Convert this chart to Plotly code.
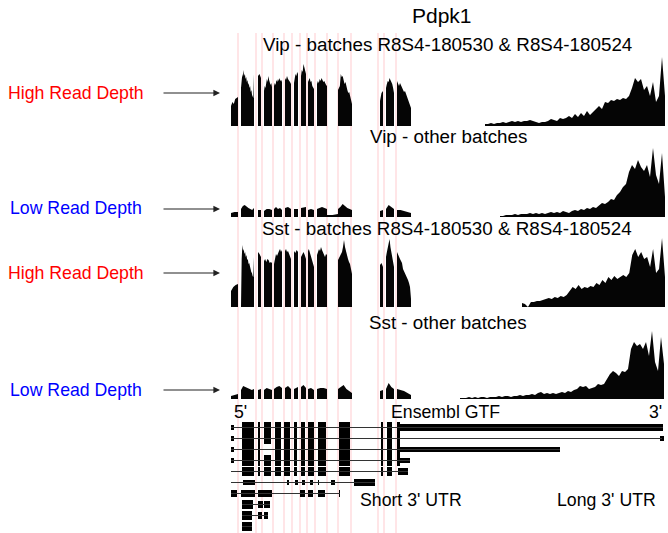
import numpy as np
import plotly.graph_objects as go

W, H = 668, 533
FONT = "Liberation Sans, Arial, sans-serif"

# ---------------- data ----------------
# coverage windows (relative genomic position along Pdpk1)
exon_starts = [1, 11, 28, 34, 44, 55, 64, 71, 78, 87, 97, 108, 150, 156, 167]
exon_ends = [8, 24, 31, 42, 52, 61, 68, 76, 84, 97, 108, 122, 153, 164, 181]

vip_high_exons = [
    [20, 24, 22, 27, 28, 29],
    [38, 44, 52, 49, 56, 50, 52, 47, 49, 44, 46, 41, 43, 38, 40, 34, 36, 31, 30, 28, 52],
    [50, 52, 48],
    [35, 40, 38, 45, 47, 44, 50, 46, 44, 41, 43, 39],
    [40, 43, 41, 46, 44, 47, 45, 48, 45, 46, 44],
    [48, 46, 50, 47, 46, 44, 42],
    [43, 48, 52, 50, 54, 52],
    [50, 56, 54, 62, 58, 55, 52],
    [44, 46, 48, 44, 45, 40, 38, 37],
    [42, 45, 43, 47, 45, 48, 46, 44, 45, 42, 41, 40],
    [0, 0],
    [36, 38, 40, 52, 49, 50, 46, 42, 44, 38, 36, 33, 34, 30, 26, 22],
    [25, 33, 35],
    [38, 42, 45, 44, 48, 46, 44, 42, 38, 33],
    [45, 42, 40, 43, 41, 38, 36, 34, 35, 32, 30, 28, 24, 22, 18]]
vip_low_exons = [
    [4, 5, 5], [8, 11, 12, 10, 9, 8, 7, 9], [7, 7], [6, 8, 8, 7], [8, 10, 8, 9, 7], [9, 10, 8],
    [8, 8], [9, 10], [7, 8, 7], [8, 9, 10, 9, 8], [2, 2, 3], [8, 10, 13, 11, 9, 8, 7], [6, 7],
    [8, 12, 10, 8], [7, 7, 6, 5, 4]]
sst_high_exons = [
    [16, 20, 22, 23],
    [36, 48, 62, 56, 58, 53, 55, 50, 52, 47, 48, 43, 44, 39, 38, 35, 34, 31, 30, 50],
    [55, 53, 50],
    [46, 48, 45, 48, 47, 44, 45, 44],
    [43, 48, 53, 51, 55, 56, 58, 55, 57],
    [56, 58, 55, 56, 53, 50, 48],
    [56, 54, 57, 55],
    [50, 53, 55, 52, 48],
    [56, 58, 55, 52, 50, 47, 45, 40],
    [52, 55, 58, 56, 60, 57, 55, 52, 50, 53, 52],
    [0, 0],
    [47, 49, 50, 53, 55, 60, 67, 60, 55, 52, 48, 45, 43, 38, 33],
    [42, 44, 40],
    [50, 55, 60, 65, 68, 60, 55, 50, 48, 40],
    [55, 52, 50, 48, 46, 44, 38, 36, 33, 31, 30, 27, 24, 20, 8]]
sst_low_exons = [
    [3, 4, 5], [9, 13, 12, 11, 10, 9, 10], [9, 10], [9, 11, 10, 9], [10, 12, 13, 11],
    [11, 13, 10], [10, 12], [12, 14, 11], [10, 11, 9], [10, 11, 11, 10], [0, 0],
    [10, 12, 14, 10, 8, 6], [8, 9], [10, 16, 12, 10], [10, 9, 8, 6, 4]]

# 3' UTR coverage (start, end, values)
vip_high_utr_span = (255, 435)
vip_high_utr = [2, 2, 3, 2, 3, 3, 4, 3, 4, 5, 4, 5, 4, 5, 5, 6, 5, 4, 3, 4, 4, 5, 7, 6, 5, 8, 7, 8,
                10, 8, 12, 9, 13, 10, 15, 11, 14, 18, 20, 17, 24, 23, 26, 25, 27, 26, 28, 27, 30,
                38, 48, 44, 47, 36, 40, 30, 44, 24, 30, 69, 30]
vip_low_utr_span = (270, 435)
vip_low_utr = [1, 1, 2, 2, 2, 3, 2, 3, 3, 3, 4, 3, 4, 3, 4, 3, 4, 5, 4, 5, 4, 6, 5, 4, 6, 7, 6, 8,
               7, 9, 8, 10, 9, 12, 14, 13, 15, 18, 17, 22, 25, 30, 33, 45, 52, 48, 57, 50, 46, 52,
               40, 69, 42, 33, 64, 20]
sst_high_utr_span = (292, 435)
sst_high_utr = [4, 3, 0, 5, 5, 6, 6, 7, 8, 9, 8, 10, 9, 11, 10, 12, 16, 20, 18, 22, 18, 20, 19, 21,
                20, 24, 22, 27, 24, 30, 27, 31, 28, 30, 32, 30, 34, 52, 58, 50, 55, 48, 50, 40, 58,
                34, 38, 69, 30]
sst_low_utr_span = (230, 434)
sst_low_utr = [1, 1, 1, 2, 1, 2, 1, 2, 2, 1, 2, 2, 2, 3, 2, 3, 3, 2, 3, 3, 4, 3, 4, 4, 5, 4, 6, 7,
               5, 6, 5, 6, 5, 6, 7, 6, 8, 7, 9, 10, 13, 12, 13, 10, 11, 12, 15, 14, 15, 20, 25, 28,
               26, 23, 28, 27, 30, 50, 57, 53, 55, 50, 57, 43, 68, 37, 28, 62, 35]

# exon boundary guide lines
boundaries = [8, 26, 32, 43, 54, 62, 70, 77, 85, 97, 108, 121, 148, 154, 166]

# Ensembl GTF transcripts: row -> (line span, exons [(start, end, thickness)])
common = [(12, 24), (28, 30), (34, 41), (45, 51), (54, 60), (64, 67), (71, 75), (78, 84),
          (88, 96), (109, 120), (151, 153), (157, 162), (167, 170)]
C, U, T = 1.0, 0.5, 0.58
transcripts = [
    ((1, 433), [(1, 4, U)] + [(s, e, C) for s, e in common] + [(170, 433, T)]),
    ((1, 432), [(1, 4, U)] + [(s, e, C) for s, e in common] + [(430, 434, U)]),
    ((1, 330), [(1, 4, U)] + [(s, e, C) for s, e in common if s != 34] + [(170, 330, 0.52)]),
    ((1, 180), [(1, 4, U)] + [(s, e, C) for s, e in common] + [(170, 180, U)]),
    ((1, 178), [(s, e, 0.8) for s, e in common[:-1]] + [(168, 178, 0.62)]),
    ((1, 145), [(13, 25, 0.45), (57, 59, 0.45), (65, 68, 0.45), (72, 75, 0.45), (80, 83, 0.45),
                (88, 89, 0.45), (101, 105, 0.45), (124, 145, 0.6)]),
    ((1, 110), [(1, 7, 0.6), (11, 25, 0.6), (28, 42, 0.6), (70, 75, 0.6), (78, 83, 0.6),
                (88, 95, 0.6), (109, 110, 0.6)]),
    ((12, 40), [(12, 23, 0.9), (28, 33, 0.7), (34, 40, 0.7)]),
    ((12, 38), [(12, 22, 0.9), (28, 32, 0.7), (34, 38, 0.7)]),
    ((12, 22), [(12, 22, 0.9)]),
]

# ---------------- figure ----------------
fig = go.Figure()


def coverage_xy(exon_vals, utr_span, utr_vals):
    xs, ys = [], []
    for s, e, vals in zip(exon_starts, exon_ends, exon_vals):
        xs += [s] + list(np.linspace(s, e, len(vals))) + [e]
        ys += [0] + list(vals) + [0]
    s, e = utr_span
    xs += [s] + list(np.linspace(s, e, len(utr_vals))) + [e]
    ys += [0] + list(utr_vals) + [0]
    return xs, ys


tracks = [
    (vip_high_exons, vip_high_utr_span, vip_high_utr, "y"),
    (vip_low_exons, vip_low_utr_span, vip_low_utr, "y2"),
    (sst_high_exons, sst_high_utr_span, sst_high_utr, "y3"),
    (sst_low_exons, sst_low_utr_span, sst_low_utr, "y4"),
]
for ev, span, uv, ya in tracks:
    xs, ys = coverage_xy(ev, span, uv)
    fig.add_trace(go.Scatter(x=xs, y=ys, xaxis="x", yaxis=ya, mode="lines",
                             line=dict(width=0, color="black"), fill="tozeroy",
                             fillcolor="#050505", hoverinfo="skip", showlegend=False))

# transcript lines
lx, ly = [], []
for r, (span, ex) in enumerate(transcripts):
    lx += [span[0], span[1], None]
    ly += [r, r, None]
fig.add_trace(go.Scatter(x=lx, y=ly, xaxis="x", yaxis="y5", mode="lines",
                         line=dict(width=1, color="#333333"), hoverinfo="skip", showlegend=False))

bx, bb, by, bw = [], [], [], []
for r, (span, ex) in enumerate(transcripts):
    for s, e, th in ex:
        bb.append(s)
        bx.append(e - s)
        by.append(r)
        bw.append(th)
fig.add_trace(go.Bar(x=bx, base=bb, y=by, width=bw, orientation="h", xaxis="x", yaxis="y5",
                     marker=dict(color="black", line=dict(width=0)), hoverinfo="skip",
                     showlegend=False))


def px(x):
    return x / W


def py(y):
    return 1 - y / H


# guide lines
shapes = []
for b in boundaries:
    shapes.append(dict(type="line", xref="x", yref="paper", x0=b, x1=b, y0=0,
                       y1=py(33), line=dict(color="rgba(255,160,170,0.55)", width=1),
                       layer="below"))


def txt(text, x, y, size, color="black"):
    return dict(text=text, x=px(x), y=py(y), xref="paper", yref="paper", showarrow=False,
                xanchor="center", yanchor="middle", font=dict(family=FONT, size=size, color=color))


ann = [
    txt("Pdpk1", 442, 16, 21),
    txt("Vip - batches R8S4-180530 & R8S4-180524", 447, 45, 18.8),
    txt("Vip - other batches", 448, 136, 18.8),
    txt("Sst - batches R8S4-180530 & R8S4-180524", 447, 228, 18.8),
    txt("Sst - other batches", 448, 322, 18.8),
    txt("High Read Depth", 76, 93, 17.7, "#ff0000"),
    txt("Low Read Depth", 76, 208, 17.7, "#0000ff"),
    txt("High Read Depth", 76, 273, 17.7, "#ff0000"),
    txt("Low Read Depth", 76, 390, 17.7, "#0000ff"),
    txt("5'", 240, 412, 17.7),
    txt("Ensembl GTF", 445, 412, 17.7),
    txt("3'", 655, 412, 17.7),
    txt("Short 3' UTR", 411, 500, 17.7),
    txt("Long 3' UTR", 606, 500, 17.7),
]
for yy in [93, 209, 273, 390]:
    ann.append(dict(text="", x=px(220), y=py(yy), xref="paper", yref="paper", showarrow=True,
                    ax=-58, ay=0, arrowhead=2, arrowsize=1.1, arrowwidth=1.2,
                    arrowcolor="#222222"))


def track_domain(base, height=80):
    return [py(base), py(base - height)]


hidden = dict(visible=False, fixedrange=True)
fig.update_layout(
    width=W, height=H, margin=dict(l=0, r=0, t=0, b=0),
    paper_bgcolor="white", plot_bgcolor="rgba(0,0,0,0)", showlegend=False,
    xaxis=dict(domain=[0, 1], range=[-230, W - 230], anchor="y", **hidden),
    yaxis=dict(domain=track_domain(126), range=[0, 80], anchor="x", **hidden),
    yaxis2=dict(domain=track_domain(217), range=[0, 80], anchor="x", **hidden),
    yaxis3=dict(domain=track_domain(307), range=[0, 80], anchor="x", **hidden),
    yaxis4=dict(domain=track_domain(399), range=[0, 80], anchor="x", **hidden),
    yaxis5=dict(domain=[0, py(420)], range=[(533 - 427.5) / 11, -(427.5 - 420) / 11],
                anchor="x", **hidden),
    shapes=shapes, annotations=ann, bargap=0,
)

# remove the page's default body margin/scrollbars so the figure fills the window exactly
fig.write_html("out.html", config={"displayModeBar": False},
               post_script="document.body.style.margin='0';"
                           "document.body.style.overflow='hidden';")
